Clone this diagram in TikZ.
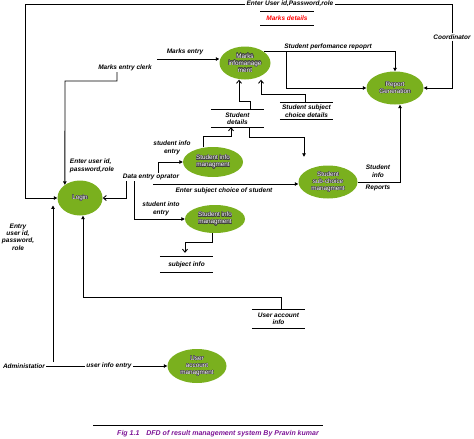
\documentclass[tikz,border=0pt]{standalone}
\usepackage{fontspec}
\setmainfont{Liberation Sans}
\usepackage{contour}
\contourlength{0.3pt}
\usetikzlibrary{
	arrows.meta,
	positioning,
	calc,
	shapes.geometric
}
\definecolor{procgreen}{RGB}{122,176,30}
\definecolor{capcolor}{RGB}{125,20,150}
\newcommand{\lblfont}{\fontsize{6.5}{7.4}\selectfont\bfseries\itshape}
\newcommand{\procfont}{\fontsize{6.3}{7}\selectfont}
\newcommand{\outl}[1]{\contour{black!75}{#1}}

\begin{document}
\begin{tikzpicture}[x=1pt,y=-1pt,
		proc/.style={ellipse, fill=procgreen, inner sep=0pt, align=center, text=white, font=\procfont},
		lbl/.style={font=\lblfont, align=center, inner sep=1pt},
		store/.style={font=\lblfont, align=center, inner sep=0pt, minimum width=53pt},
		arrow/.style={-{Triangle[length=3.5pt,width=3.5pt]}, line width=0.85pt},
		oarrow/.style={-{Straight Barb[length=3pt,width=5pt]}, line width=0.85pt},
		line/.style={line width=0.85pt}
		]
		\useasboundingbox (0,0) rectangle (474,439);
		
		% --- Processes ---
		\node[proc, minimum width=51pt, minimum height=33pt] (marks) at (245,63)
		{\outl{Marks}\\\outl{infomanage}\\\outl{ment}};
		\node[proc, minimum width=57pt, minimum height=33pt] (report) at (395,88)
		{\outl{Report}\\\outl{Generation}};
		\node[proc, minimum width=45pt, minimum height=35pt] (login) at (80,198)
		{\outl{Login}};
		\node[proc, minimum width=60pt, minimum height=30pt] (sinfoa) at (213,162)
		{\outl{Student info}\\\outl{managment}};
		\node[proc, minimum width=60pt, minimum height=28pt] (sinfob) at (215,219)
		{\outl{Student info}\\\outl{managment}};
		\node[proc, minimum width=59pt, minimum height=33pt] (subch) at (328,182)
		{\outl{Student}\\\outl{sub-choice}\\\outl{managment}};
		\node[proc, minimum width=59pt, minimum height=34pt] (uacc) at (197,366)
		{\outl{User}\\\outl{account}\\\outl{managment}};
		
		% --- Data stores ---
		\node[store, minimum height=13pt, text=red] (mdet) at (287,18.5) {Marks details};
		\node[store, minimum height=17pt] (sdet) at (237.5,118.5) {Student\\details};
		\node[store, minimum height=16pt] (sscd) at (306.5,111) {Student subject\\choice details};
		\node[store, minimum height=15pt] (subinfo) at (186.5,264.5) {subject info};
		\node[store, minimum height=18pt] (uainfo) at (278.5,319) {User account\\info};
		\foreach \s in {mdet,sdet,sscd,subinfo,uainfo}
		\draw[line] (\s.north west) -- (\s.north east) (\s.south west) -- (\s.south east);
		
		% --- Entities and flow labels ---
		\node[lbl] (toplbl) at (290,4) {Enter User id,Password,role};
		\node[lbl] (coord) at (452,37) {Coordinator};
		\node[lbl] (clerk) at (125,68) {Marks entry clerk};
		\node[lbl] (mentry) at (185,52) {Marks entry};
		\node[lbl] (sperf) at (328,47) {Student perfomance repoprt};
		\node[lbl, align=left] (eulogin) at (92,166) {Enter user id,\\password,role};
		\node[lbl] (entryl) at (18,237) {Entry\\user id,\\password,\\role};
		\node[lbl] (deo) at (151,177) {Data entry oprator};
		\node[lbl] (siea) at (172,148) {student info\\entry};
		\node[lbl] (esc) at (224,191) {Enter subject choice of student};
		\node[lbl] (sieb) at (161,209) {student into\\entry};
		\node[lbl] (stinfo) at (378,171) {Student\\info};
		\node[lbl] (reports) at (378,188) {Reports};
		\node[lbl] (admin) at (24,366) {Administatior};
		\node[lbl] (uie) at (109,366) {user info entry};
		\node[font=\fontsize{7}{8}\selectfont\bfseries\itshape, text=capcolor] (cap) at (218,434)
		{Fig 1.1\quad DFD of result management system By Pravin kumar};
		\draw[line] (93,425) -- (323,425);
		
		\coordinate (tl) at (25,4);
		\coordinate (ck) at (65,81);
		\coordinate (me) at (157,59);
		\coordinate (es) at (153,184);
		\coordinate (adm) at (53,362);
		
		% --- Arrows ---
		\draw[arrow] (coord.south) |- (report.east);
		\draw[line] (coord.north) |- (toplbl.east);
		\draw[arrow] (toplbl.west) -- (tl) |- (login.west);
		
		\draw[arrow] ([xshift=-8pt]clerk.south) |- (ck) -- (login.139);
		\draw[arrow] (me) -- (me -| marks.west);
		
		\draw[arrow] (marks.30) -| (report.north);
		\path (marks.30) ++(22,0) coordinate (br);
		\draw[arrow] (br) |- (report.west);
		
		\draw[oarrow] ([xshift=12.5pt]sdet.north) -- ++(0,-8) -| ([xshift=-6pt]marks.south);
		\draw[oarrow] ([xshift=-1.5pt]sscd.north) -- ++(0,-8) -| ([xshift=16pt]marks.south);
		\draw[oarrow] ([xshift=-10pt]sinfoa.north) -- ++(0,-10) -| ([xshift=-6.5pt]sdet.south);
		\draw[arrow] ([xshift=11.5pt]sdet.south) -- ++(0,10) -| ([xshift=-24pt,yshift=8.5pt]subch.north);
		
		\draw[oarrow] ([xshift=-25pt]deo.south) |- (login.east);
		\draw[arrow] ([xshift=7pt]deo.north) |- (sinfoa.west);
		\draw[arrow] (es) -- (es -| subch.west);
		\draw[arrow] ([xshift=-17pt]deo.south) |- (sinfob.west);
		\draw[oarrow] ([xshift=-3pt]sinfob.south) -- ++(0,9) -| ([xshift=-1.5pt,yshift=4pt]subinfo.north);
		
		\draw[arrow] (subch.east) -| ([xshift=5pt]report.south);
		\draw[arrow] ([xshift=2.5pt]uainfo.north) -- ++(0,-12) -| ([xshift=3pt]login.south);
		
		\draw[line] (admin.east) -- (uie.west);
		\draw[arrow] (uie.east) -- (uacc.west);
		\draw[arrow] (adm) -- (adm |- login.200);
		
	\end{tikzpicture}
\end{document}
